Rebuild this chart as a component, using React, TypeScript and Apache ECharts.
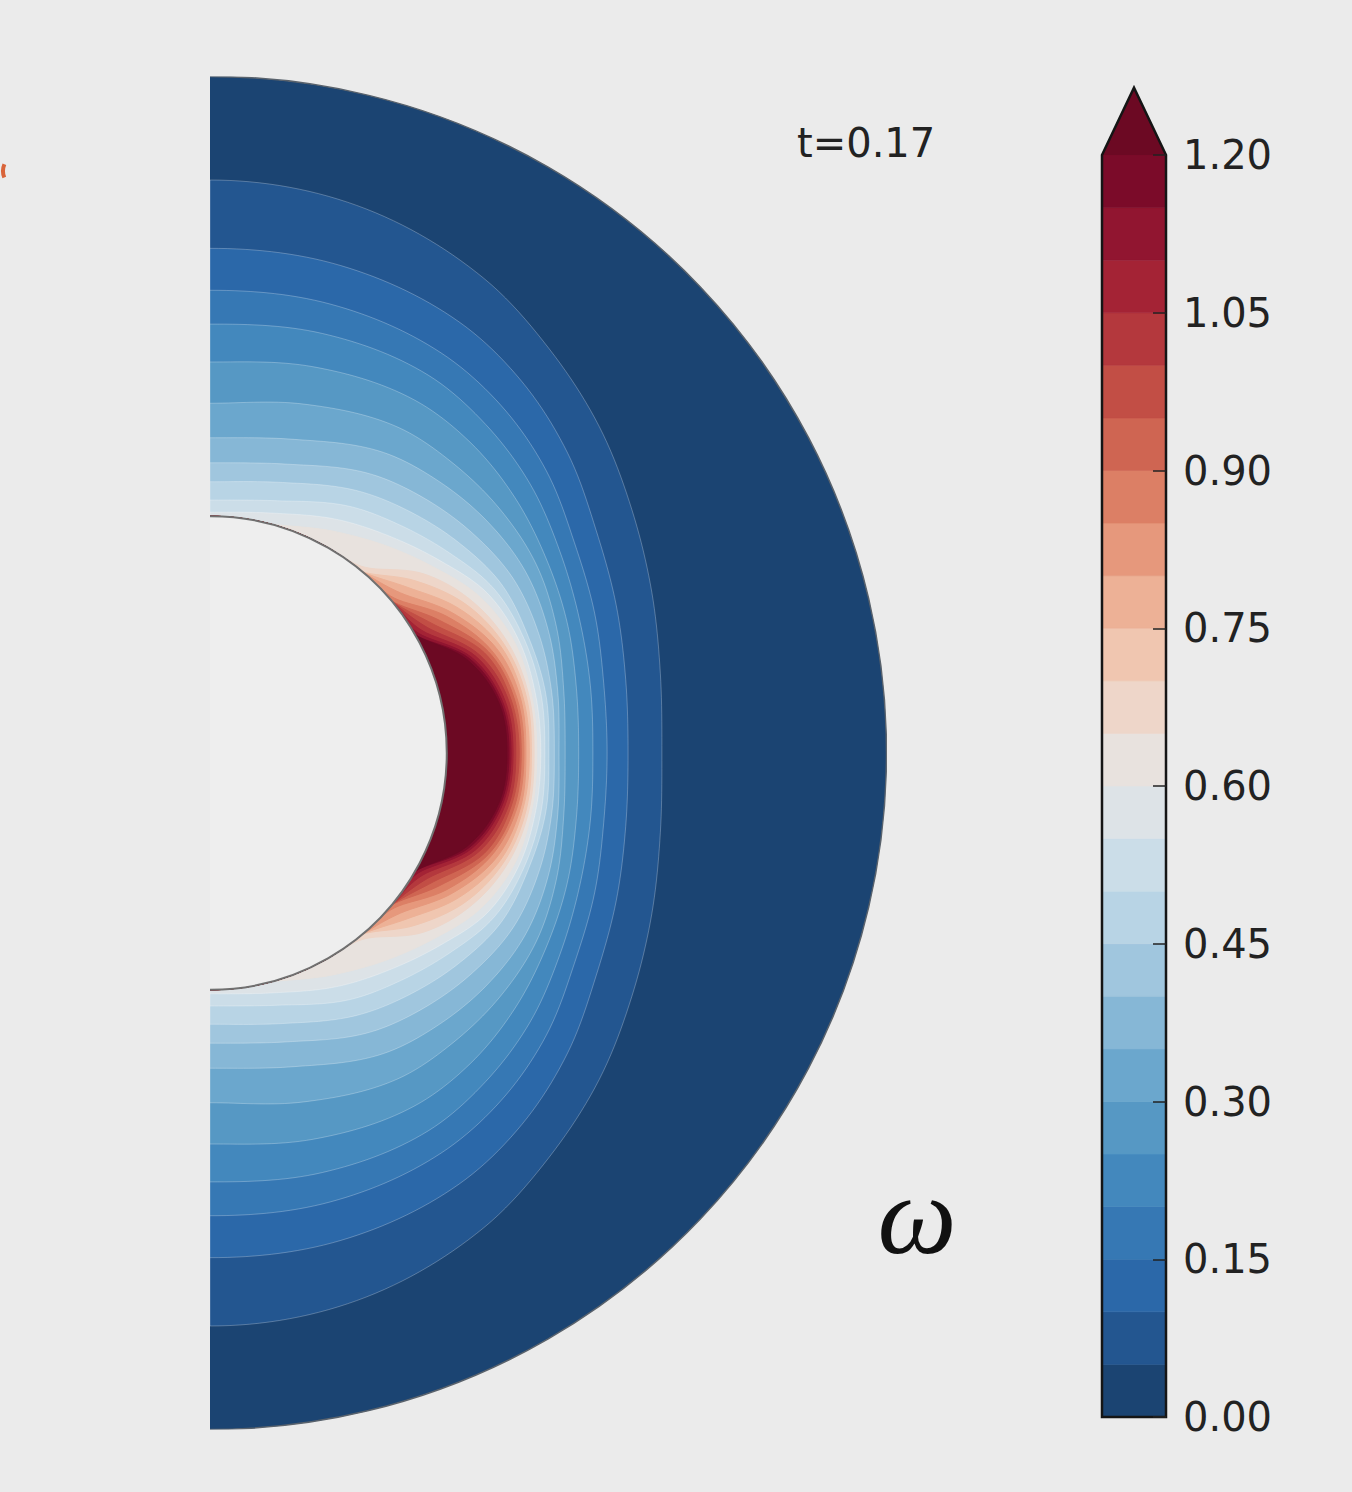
import React, { useEffect, useRef } from "react";
import * as echarts from "echarts";

// Latitudes (degrees) at which each contour's radius was read; mirrored to the south
const LATITUDES = [0, 10, 20, 30, 40, 50, 60, 75, 90];
const R_INNER = 0.35;
const R_OUTER = 1.0;

// Contour levels (colorbar boundaries)
const LEVELS = [0, 0.05, 0.1, 0.15, 0.2, 0.25, 0.3, 0.35, 0.4, 0.45, 0.5, 0.55, 0.6, 0.65, 0.7, 0.75, 0.8, 0.85, 0.9, 0.95, 1.0, 1.05, 1.1, 1.15, 1.2];

// Radius (r / r_outer) of each contour at the latitudes above (0.35 = on the inner sphere)
const R_005 = [0.668, 0.676, 0.695, 0.720, 0.751, 0.780, 0.810, 0.838, 0.847];
const R_010 = [0.618, 0.624, 0.639, 0.659, 0.690, 0.717, 0.736, 0.746, 0.746];
const R_015 = [0.587, 0.591, 0.605, 0.622, 0.649, 0.670, 0.683, 0.687, 0.684];
const R_020 = [0.566, 0.571, 0.581, 0.597, 0.618, 0.634, 0.645, 0.642, 0.634];
const R_025 = [0.545, 0.550, 0.562, 0.574, 0.588, 0.599, 0.603, 0.591, 0.578];
const R_030 = [0.525, 0.531, 0.545, 0.557, 0.560, 0.559, 0.556, 0.534, 0.517];
const R_035 = [0.516, 0.522, 0.532, 0.538, 0.534, 0.525, 0.513, 0.480, 0.466];
const R_040 = [0.509, 0.513, 0.517, 0.517, 0.506, 0.492, 0.476, 0.442, 0.429];
const R_045 = [0.501, 0.504, 0.501, 0.498, 0.482, 0.464, 0.446, 0.414, 0.401];
const R_050 = [0.495, 0.497, 0.494, 0.485, 0.461, 0.439, 0.420, 0.386, 0.374];
const R_055 = [0.489, 0.489, 0.486, 0.473, 0.443, 0.417, 0.396, 0.367, 0.356];
const R_060 = [0.483, 0.483, 0.479, 0.461, 0.429, 0.401, 0.377, 0.350, 0.350];
const R_065 = [0.479, 0.479, 0.470, 0.448, 0.412, 0.358, 0.350, 0.350, 0.350];
const R_070 = [0.475, 0.475, 0.464, 0.438, 0.396, 0.350, 0.350, 0.350, 0.350];
const R_075 = [0.472, 0.470, 0.458, 0.426, 0.381, 0.350, 0.350, 0.350, 0.350];
const R_080 = [0.467, 0.466, 0.451, 0.414, 0.368, 0.350, 0.350, 0.350, 0.350];
const R_085 = [0.464, 0.461, 0.443, 0.404, 0.356, 0.350, 0.350, 0.350, 0.350];
const R_090 = [0.460, 0.457, 0.438, 0.392, 0.350, 0.350, 0.350, 0.350, 0.350];
const R_095 = [0.457, 0.452, 0.432, 0.381, 0.350, 0.350, 0.350, 0.350, 0.350];
const R_100 = [0.452, 0.448, 0.424, 0.371, 0.350, 0.350, 0.350, 0.350, 0.350];
const R_105 = [0.448, 0.443, 0.418, 0.362, 0.350, 0.350, 0.350, 0.350, 0.350];
const R_110 = [0.445, 0.439, 0.412, 0.355, 0.350, 0.350, 0.350, 0.350, 0.350];
const R_115 = [0.442, 0.436, 0.408, 0.350, 0.350, 0.350, 0.350, 0.350, 0.350];
const R_120 = [0.439, 0.433, 0.404, 0.350, 0.350, 0.350, 0.350, 0.350, 0.350];

const CONTOURS = [
  R_005, R_010, R_015, R_020, R_025, R_030, R_035, R_040, R_045, R_050, R_055, R_060,
  R_065, R_070, R_075, R_080, R_085, R_090, R_095, R_100, R_105, R_110, R_115, R_120,
];

// Band colours (RdBu_r, as photographed), one per interval of LEVELS
const BAND_COLORS = [
  "#1b4472", "#235690", "#2b68a9", "#3678b4", "#4388bd", "#5698c4", "#6ba7cd", "#86b7d6",
  "#a0c6de", "#b8d4e5", "#cbdde8", "#dde3e7", "#e8e2de", "#eed6c9", "#f0c6b0", "#edb196",
  "#e6987c", "#dc7f65", "#cf6552", "#c24e45", "#b4383d", "#a42335", "#911530", "#7b0b29",
];
const EXTEND_COLOR = "#6c0923";

const CBAR_MIN = 0;
const CBAR_MAX = 1.2;
const TICK_STEP = 0.15;
const EXTEND_TIP = 1.264;

const TIME_LABEL = "t=0.17";
const FIELD_LABEL = "ω";

// Smooth curve (cubic Hermite in latitude) through the read contour radii, for drawing only
function traceContour(radii: number[]): [number, number][] {
  const n = LATITUDES.length;
  const slope = radii.map((_, i) =>
    i === 0 || i === n - 1 ? 0 : (radii[i + 1] - radii[i - 1]) / (LATITUDES[i + 1] - LATITUDES[i - 1])
  );
  const out: [number, number][] = [];
  for (let i = 0; i < n - 1; i++) {
    const l0 = LATITUDES[i];
    const h = LATITUDES[i + 1] - l0;
    for (let s = 0; s < h; s += 1) {
      const t = s / h;
      const t2 = t * t;
      const t3 = t2 * t;
      const r =
        (2 * t3 - 3 * t2 + 1) * radii[i] +
        (t3 - 2 * t2 + t) * h * slope[i] +
        (-2 * t3 + 3 * t2) * radii[i + 1] +
        (t3 - t2) * h * slope[i + 1];
      out.push([l0 + s, r]);
    }
  }
  out.push([LATITUDES[n - 1], radii[n - 1]]);
  return out;
}

export default function App() {
  const ref = useRef<HTMLDivElement>(null);

  useEffect(() => {
    if (!ref.current) return;
    const chart = echarts.init(ref.current, null, { renderer: "svg" });
    const deg = Math.PI / 180;

    const diskRender = (_params: any, api: any) => {
      const k = api.value(0) as number;
      const c = api.coord([0, 0]);
      if (k === 0) {
        const ro = api.size([R_OUTER, 0])[0];
        return {
          type: "circle",
          shape: { cx: c[0], cy: c[1], r: ro },
          style: { fill: BAND_COLORS[0] },
        };
      }
      const curve = traceContour(CONTOURS[k - 1]);
      const p = (lat: number, r: number) =>
        api.coord([r * Math.cos(lat * deg), r * Math.sin(lat * deg)]);
      const pts: number[][] = [];
      for (let i = curve.length - 1; i >= 1; i--) pts.push(p(-curve[i][0], curve[i][1]));
      for (let i = 0; i < curve.length; i++) pts.push(p(curve[i][0], curve[i][1]));
      const color = k < BAND_COLORS.length ? BAND_COLORS[k] : EXTEND_COLOR;
      return {
        type: "polygon",
        shape: { points: pts },
        style: {
          fill: color,
          stroke: k <= 11 ? "rgba(255,255,255,0.26)" : color,
          lineWidth: 1,
        },
      };
    };

    const shellRender = (_params: any, api: any) => {
      const c = api.coord([0, 0]);
      const ro = api.size([R_OUTER, 0])[0];
      const ri = api.size([R_INNER, 0])[0];
      return {
        type: "group",
        children: [
          {
            type: "circle",
            shape: { cx: c[0], cy: c[1], r: ri },
            style: { fill: "#eeeeee", stroke: "#707070", lineWidth: 2 },
          },
          {
            type: "circle",
            shape: { cx: c[0], cy: c[1], r: ro },
            style: { fill: "none", stroke: "#59626c", lineWidth: 1.5 },
          },
        ],
      };
    };

    const cbarRender = (_params: any, api: any) => {
      const j = api.value(0) as number;
      const a = api.coord([0, LEVELS[j + 1]]);
      const b = api.coord([1, LEVELS[j]]);
      return {
        type: "rect",
        shape: { x: a[0], y: a[1], width: b[0] - a[0], height: b[1] - a[1] },
        style: { fill: BAND_COLORS[j], stroke: BAND_COLORS[j], lineWidth: 0.6 },
      };
    };

    const cbarFrame = (_params: any, api: any) => {
      const p = (x: number, y: number) => api.coord([x, y]);
      return {
        type: "group",
        children: [
          {
            type: "polygon",
            shape: { points: [p(0, CBAR_MAX), p(1, CBAR_MAX), p(0.5, EXTEND_TIP)] },
            style: { fill: EXTEND_COLOR },
          },
          {
            type: "polygon",
            shape: {
              points: [p(0, CBAR_MIN), p(1, CBAR_MIN), p(1, CBAR_MAX), p(0.5, EXTEND_TIP), p(0, CBAR_MAX)],
            },
            style: { fill: "none", stroke: "#151515", lineWidth: 2.5 },
          },
        ],
      };
    };

    chart.setOption({
      animation: false,
      backgroundColor: "#ebebeb",
      grid: [
        { left: 210, top: 76.5, width: 676.5, height: 1353 },
        { left: 1102, top: 155, width: 64, height: 1262 },
      ],
      xAxis: [
        { type: "value", gridIndex: 0, min: 0, max: 1, show: false },
        { type: "value", gridIndex: 1, min: 0, max: 1, show: false },
      ],
      yAxis: [
        { type: "value", gridIndex: 0, min: -1, max: 1, show: false },
        {
          type: "value",
          gridIndex: 1,
          min: CBAR_MIN,
          max: CBAR_MAX,
          interval: TICK_STEP,
          position: "right",
          z: 10,
          axisLine: { show: false, onZero: false },
          axisTick: { show: true, inside: true, length: 13, lineStyle: { color: "#222", width: 1.5 } },
          axisLabel: {
            margin: 17,
            fontSize: 40,
            color: "#222",
            fontFamily: "DejaVu Sans",
            formatter: (v: number) => v.toFixed(2),
          },
          splitLine: { show: false },
        },
      ],
      series: [
        {
          type: "custom",
          xAxisIndex: 0,
          yAxisIndex: 0,
          clip: true,
          renderItem: diskRender,
          data: LEVELS.map((_, k) => [k]),
        },
        {
          type: "custom",
          xAxisIndex: 0,
          yAxisIndex: 0,
          clip: true,
          renderItem: shellRender,
          data: [[0]],
        },
        {
          type: "custom",
          xAxisIndex: 1,
          yAxisIndex: 1,
          renderItem: cbarRender,
          data: BAND_COLORS.map((_, j) => [j]),
        },
        {
          type: "custom",
          xAxisIndex: 1,
          yAxisIndex: 1,
          clip: false,
          renderItem: cbarFrame,
          data: [[0]],
        },
      ],
      graphic: [
        {
          type: "text",
          x: 797,
          y: 143,
          style: {
            text: TIME_LABEL,
            fontSize: 40,
            fontFamily: "DejaVu Sans",
            fill: "#222",
            verticalAlign: "middle",
            align: "left",
          },
        },
        {
          type: "text",
          x: 917,
          y: 1215,
          style: {
            text: FIELD_LABEL,
            fontSize: 112,
            fontFamily: "Liberation Serif",
            fontStyle: "italic",
            fill: "#111",
            verticalAlign: "middle",
            align: "center",
          },
        },
        {
          type: "arc",
          shape: { cx: 20, cy: 171, r: 17, startAngle: 2.75, endAngle: 3.55 },
          style: { stroke: "#d9643a", lineWidth: 4, fill: "none" },
        },
      ],
    });

    return () => chart.dispose();
  }, []);

  return (
    <div
      ref={ref}
      style={{ position: "absolute", left: 0, top: 0, width: 1352, height: 1492 }}
    />
  );
}
